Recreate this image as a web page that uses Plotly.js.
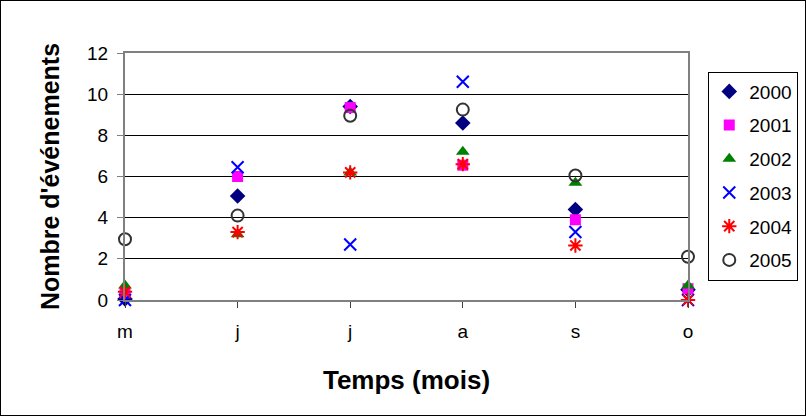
<!DOCTYPE html>
<html><head><meta charset="utf-8">
<script src="https://cdn.plot.ly/plotly-3.0.1.min.js"></script>
<style>html,body{margin:0;padding:0;background:#fff}#frame{position:absolute;left:0;top:0;width:804px;height:414px;border:1px solid #000;pointer-events:none}</style>
</head><body>
<div id="chart" style="width:806px;height:416px"></div>
<div id="frame"></div>
<script>
const categories = ['m','j','j','a','s','o'];
const categoryPos = [0,1,2,3,4,5];
const years = ['2000','2001','2002','2003','2004','2005'];
const v2000 = [0.05, 5.05, 9.4, 8.6, 4.4, 0.5];
const v2001 = [0.35, 6.0, 9.35, 6.55, 3.9, 0.55];
const v2002 = [0.7, 3.2, 6.2, 7.2, 5.7, 0.7];
const v2003 = [0.0, 6.45, 2.7, 10.6, 3.3, 0.0];
const v2004 = [0.4, 3.3, 6.2, 6.6, 2.65, 0.0];
const v2005 = [2.95, 4.1, 8.95, 9.25, 6.05, 2.1];

const series = [v2000, v2001, v2002, v2003, v2004, v2005];
const markers = [
  {symbol:'diamond', color:'#000080', size:12},
  {symbol:'square', color:'#FF00FF', size:11},
  {symbol:'triangle-up', color:'#008000', size:12},
  {symbol:'x-thin-open', color:'#0000FF', size:12, line:{color:'#0000FF', width:2}},
  {symbol:'asterisk-open', color:'#FF0000', size:12, line:{color:'#FF0000', width:2}},
  {symbol:'circle-open', color:'#333333', size:12, line:{color:'#333333', width:2}}
];
const traces = series.map((s,i)=>({
  type:'scatter', mode:'markers', x:categoryPos, y:s, name:years[i],
  marker:markers[i], cliponaxis:false, legendgroup:'g'+i
}));
const layout = {
  width:806, height:416,
  margin:{l:125, r:118, t:53, b:116, autoexpand:false},
  paper_bgcolor:'#fff', plot_bgcolor:'#fff',
  font:{family:'Liberation Sans, Arial, sans-serif', size:19, color:'#000'},
  xaxis:{range:[0,5], tickvals:categoryPos, ticktext:categories, showgrid:false, zeroline:false,
    showline:true, linecolor:'#808080', linewidth:2, mirror:true, ticks:'outside', ticklen:6, tickcolor:'#404040',
    ticklabelstandoff:7,
    title:{text:'<b>Temps (mois)</b>', font:{size:26}, standoff:30}},
  yaxis:{range:[0,12], dtick:2, showgrid:true, gridcolor:'#000', gridwidth:1, zeroline:false,
    showline:true, linecolor:'#808080', linewidth:2, mirror:true, ticks:'outside', ticklen:6, tickcolor:'#808080',
    ticklabelstandoff:5,
    title:{text:'<b>Nombre d\'événements</b>', font:{size:25}, standoff:20}},
  legend:{x:1.036, y:0.925, xanchor:'left', yanchor:'top', bordercolor:'#000', borderwidth:1,
    font:{size:19}, traceorder:'grouped', tracegroupgap:6, itemwidth:30},
  showlegend:true
};
Plotly.newPlot('chart', traces, layout, {displayModeBar:false, staticPlot:true});
</script>
</body></html>
